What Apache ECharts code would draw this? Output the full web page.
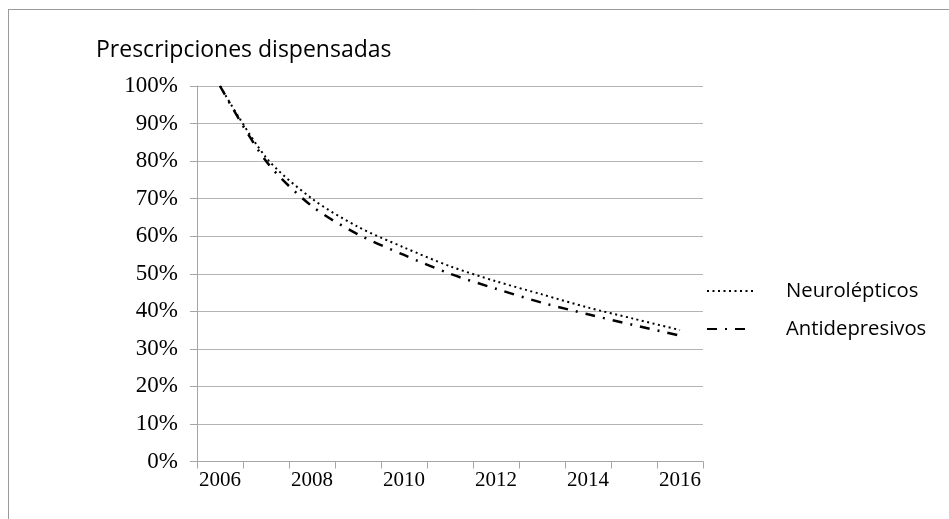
<!DOCTYPE html>
<html>
<head>
<meta charset="utf-8">
<script src="https://cdn.jsdelivr.net/npm/echarts@6/dist/echarts.min.js"></script>
<style>html,body{margin:0;padding:0;background:#fff;}#c{width:949px;height:519px;}</style>
</head>
<body>
<div id="c"></div>
<script>
const years = ['2006','2007','2008','2009','2010','2011','2012','2013','2014','2015','2016'];
const neurolepticos = [100, 81, 70, 62.5, 57, 52, 48, 44.5, 41, 38, 35];
const antidepresivos = [100, 80, 68, 60.5, 55, 50, 46, 42.3, 39.2, 36.3, 33.5];
const yTicks = [0, 10, 20, 30, 40, 50, 60, 70, 80, 90, 100];

const chart = echarts.init(document.getElementById('c'), null, {renderer: 'canvas'});
chart.setOption({
  animation: false,
  backgroundColor: '#fff',
  title: {
    text: 'Prescripciones dispensadas',
    left: 91, top: 34,
    textStyle: {fontFamily: 'Open Sans', fontSize: 23, fontWeight: 'normal', color: '#000'}
  },
  graphic: [
    {type: 'line', shape: {x1: 8, y1: 9.5, x2: 949, y2: 9.5}, style: {stroke: '#9a9a9a', lineWidth: 1}},
    {type: 'line', shape: {x1: 8.5, y1: 9, x2: 8.5, y2: 519}, style: {stroke: '#9a9a9a', lineWidth: 1}}
  ],
  legend: {
    orient: 'vertical',
    left: 706, top: 281, padding: 0,
    itemWidth: 46, itemHeight: 20, itemGap: 18,
    itemStyle: {opacity: 0},
    textStyle: {fontFamily: 'Open Sans', fontSize: 20.3, lineHeight: 20, color: '#000', padding: [0, 0, 0, 28]},
    data: ['Neurolépticos', 'Antidepresivos']
  },
  grid: {left: 197, right: 246, top: 86, bottom: 57.5, containLabel: false},
  xAxis: {
    type: 'category',
    data: years,
    boundaryGap: true,
    axisLine: {show: true, lineStyle: {color: '#a6a6a6', width: 1}},
    axisTick: {show: true, interval: 0, length: 7, lineStyle: {color: '#a6a6a6'}},
    axisLabel: {interval: 1, fontFamily: 'Liberation Serif', fontSize: 21, color: '#000', margin: 8},
    splitLine: {show: false}
  },
  yAxis: {
    type: 'value',
    min: yTicks[0], max: yTicks[yTicks.length - 1], interval: 10,
    axisLine: {show: true, lineStyle: {color: '#a6a6a6', width: 1}},
    axisTick: {show: true, length: 7, lineStyle: {color: '#a6a6a6'}},
    axisLabel: {formatter: '{value}%', fontFamily: 'Liberation Serif', fontSize: 23, color: '#000', margin: 19},
    splitLine: {show: true, lineStyle: {color: '#b4b4b4', width: 1}}
  },
  series: [
    {
      name: 'Neurolépticos', type: 'line', data: neurolepticos,
      smooth: 0.3, symbol: 'none', showSymbol: false,
      lineStyle: {color: '#000', width: 2, type: [2, 3.5]},
      itemStyle: {color: '#000'}
    },
    {
      name: 'Antidepresivos', type: 'line', data: antidepresivos,
      smooth: 0.3, symbol: 'none', showSymbol: false,
      lineStyle: {color: '#000', width: 2.5, type: [10, 8, 2, 8]},
      itemStyle: {color: '#000'}
    }
  ]
});
</script>
</body>
</html>
